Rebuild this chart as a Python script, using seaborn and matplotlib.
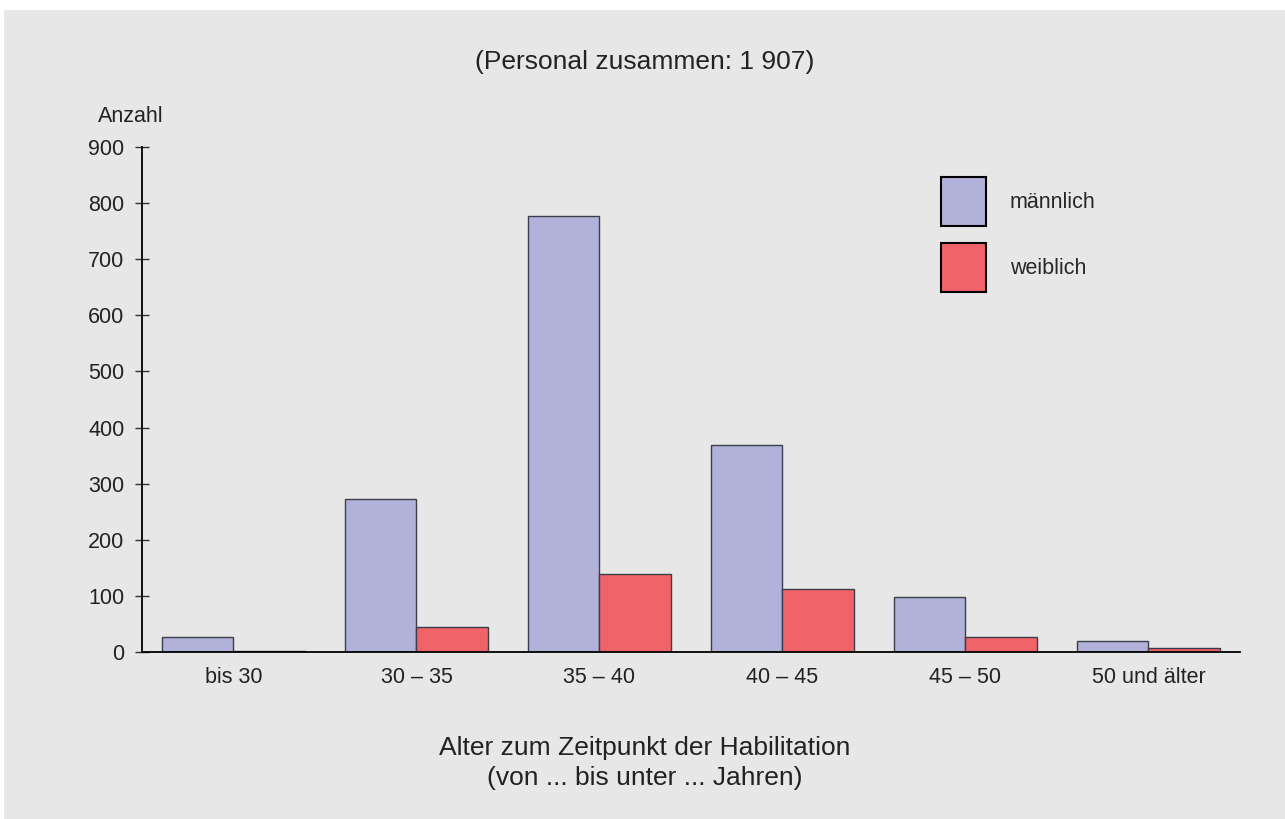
import numpy as np
import pandas as pd
import matplotlib
matplotlib.use("Agg")
import matplotlib.pyplot as plt
import matplotlib.patches as mpatches
import seaborn as sb

# data
AGE_GROUPS = ["bis 30", "30 – 35", "35 – 40", "40 – 45", "45 – 50", "50 und älter"]
MALE = [27, 273, 777, 369, 98, 20]
FEMALE = [2, 45, 139, 112, 27, 7]
SERIES = ["männlich", "weiblich"]
COLORS = ["#B1B1D9", "#F06368"]
YTICKS = [0, 100, 200, 300, 400, 500, 600, 700, 800, 900]

BG = "#E6E7E6"


def build_frame():
    rows = []
    for grp, m, f in zip(AGE_GROUPS, MALE, FEMALE):
        rows.append({"Alter": grp, "Geschlecht": SERIES[0], "Anzahl": m})
        rows.append({"Alter": grp, "Geschlecht": SERIES[1], "Anzahl": f})
    return pd.DataFrame(rows)


def main():
    sb.set_style("white")
    plt.rcParams['font.family'] = ['Liberation Sans', 'DejaVu Sans']

    fig = plt.figure(figsize=(12.85, 8.19), dpi=100)
    fig.patch.set_facecolor("white")
    # grey panel behind everything
    fig.patches.append(mpatches.Rectangle((4 / 1285, 0), 1, 1 - 10 / 819,
                                          transform=fig.transFigure,
                                          facecolor=BG, edgecolor="none", zorder=-10))

    ax = fig.add_axes([142 / 1285, 1 - 652 / 819, (1240 - 142) / 1285, (652 - 147) / 819])
    ax.set_facecolor(BG)
    ax.patch.set_alpha(0)

    df = build_frame()
    sb.barplot(data=df, x="Alter", y="Anzahl", hue="Geschlecht",
               order=AGE_GROUPS, hue_order=SERIES, palette=COLORS,
               width=0.78, gap=0, edgecolor="#3C3C4A", linewidth=1.0,
               saturation=1, legend=False, ax=ax)

    fs = 15.5
    ax.set_xlim(-0.5, 5.5)
    ax.set_ylim(0, 900)
    ax.set_yticks(YTICKS)
    ax.set_yticklabels([str(v) for v in YTICKS], fontsize=fs, color="#222222")
    ax.tick_params(axis="y", direction="inout", length=9.5, width=1, color="#333333", pad=8, left=True)
    ax.tick_params(axis="x", length=0, pad=11, labelsize=fs, labelcolor="#222222")
    ax.set_xlabel("")
    ax.set_ylabel("")
    for side in ["top", "right"]:
        ax.spines[side].set_visible(False)
    for side in ["left", "bottom"]:
        ax.spines[side].set_color("black")
        ax.spines[side].set_linewidth(1.3)

    handles = [mpatches.Patch(facecolor=c, edgecolor="black", linewidth=1.5, label=s)
               for c, s in zip(COLORS, SERIES)]
    ax.legend(handles=handles, loc="upper left",
              bbox_to_anchor=(941 / 1285, 1 - 177 / 819), bbox_transform=fig.transFigure,
              frameon=False, fontsize=fs, borderpad=0, borderaxespad=0,
              handlelength=2.1, handleheight=3.13, labelspacing=0.8, handletextpad=1.1)

    fig.text(645 / 1285, 1 - 62 / 819, "(Personal zusammen: 1 907)", ha="center", va="center",
             fontsize=19, color="#222222")
    fig.text(131 / 1285, 1 - 116 / 819, "Anzahl", ha="center", va="center",
             fontsize=fs, color="#222222")
    fig.text(645 / 1285, 1 - 748 / 819, "Alter zum Zeitpunkt der Habilitation", ha="center",
             va="center", fontsize=19, color="#222222")
    fig.text(645 / 1285, 1 - 778 / 819, "(von ... bis unter ... Jahren)", ha="center",
             va="center", fontsize=19, color="#222222")

    fig.savefig("out.png", dpi=100, facecolor=fig.get_facecolor())


if __name__ == "__main__":
    main()
